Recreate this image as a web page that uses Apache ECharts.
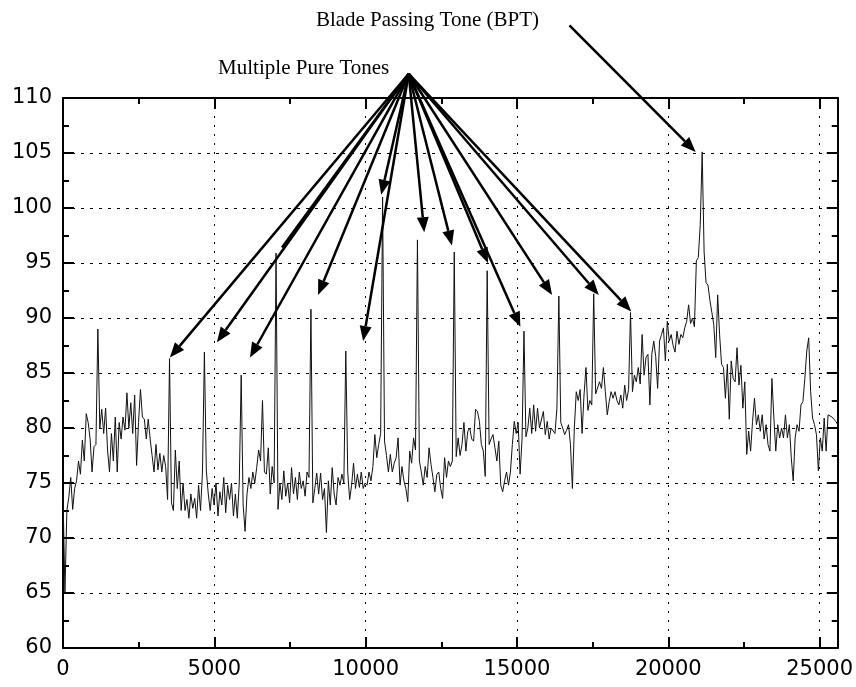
<!DOCTYPE html>
<html><head><meta charset="utf-8">
<script src="https://cdn.jsdelivr.net/npm/echarts@6/dist/echarts.min.js"></script>
<style>html,body{margin:0;padding:0;background:#fff}#c{width:856px;height:687px}</style>
</head><body><div id="c"></div>
<script>
// ---- data ----
const freqStep = 64; // Hz between spectrum samples
const levels = [
74.0,65.0,72.5,73.7,75.5,72.6,74.5,75.2,77.0,75.8,
78.9,77.0,81.3,80.5,79.0,76.0,78.3,78.5,89.0,80.0,
81.7,79.5,81.8,78.0,76.0,79.5,77.0,81.0,76.0,80.5,
79.0,81.0,79.8,83.2,80.0,82.3,79.5,83.0,76.6,80.5,
83.5,81.0,80.8,79.0,80.8,79.0,77.5,76.0,78.5,76.2,
77.7,76.0,77.5,76.5,73.5,86.3,73.2,72.5,78.0,74.5,
77.0,72.5,75.0,72.5,73.5,71.8,74.0,72.7,73.6,71.8,
74.8,72.5,76.0,86.9,76.1,74.0,72.5,74.5,73.0,75.0,
72.0,74.2,73.0,75.5,72.3,74.8,73.5,75.0,72.0,74.0,
71.8,75.0,84.8,73.0,70.6,74.0,75.5,74.5,76.0,75.0,
76.4,78.0,77.0,82.5,76.0,75.8,78.2,74.0,76.5,75.0,
95.9,72.6,75.0,73.5,76.1,73.8,75.0,73.2,76.4,74.0,
75.5,73.5,76.0,74.5,75.2,73.8,76.0,75.5,90.8,73.2,
74.5,75.9,74.0,75.9,73.5,74.5,70.5,75.2,73.0,76.4,
74.0,73.0,75.5,74.8,75.8,75.0,87.0,76.0,73.5,74.8,
76.8,74.5,75.8,74.6,76.0,74.5,75.0,74.8,76.0,75.2,
76.5,79.4,77.3,78.5,79.5,101.0,78.8,77.5,76.0,77.6,
76.0,76.8,77.3,79.1,74.8,76.5,75.2,74.5,73.3,77.9,
76.8,79.1,78.0,97.1,77.0,76.0,74.8,76.5,75.5,78.2,
76.7,75.5,74.2,75.8,76.0,74.5,73.6,77.3,75.5,77.0,
76.5,77.0,96.0,77.4,79.1,77.5,78.5,80.5,77.9,79.7,
80.0,79.0,78.8,81.7,81.5,80.6,78.5,77.9,75.6,94.3,
78.5,79.0,79.4,78.2,77.0,78.8,74.8,74.2,75.2,76.0,
74.8,76.0,78.5,80.6,79.5,80.5,75.8,79.0,88.8,79.2,
80.0,81.8,79.5,82.1,79.7,81.8,80.0,80.0,81.5,79.4,
80.6,79.0,80.0,80.0,79.5,81.8,92.0,80.5,80.0,79.4,
79.8,80.3,78.5,74.5,80.0,83.3,82.5,83.5,79.5,83.0,
85.5,81.6,82.5,82.1,92.2,83.1,83.0,84.2,83.6,85.5,
83.3,81.2,82.4,83.3,82.7,83.3,82.5,82.1,83.0,81.8,
83.9,82.5,83.5,90.5,83.3,84.8,84.2,85.5,84.0,88.5,
84.8,86.4,86.7,82.1,86.7,87.9,86.5,83.6,87.9,88.5,
89.1,86.1,89.7,87.9,88.5,87.5,86.9,88.8,87.6,88.5,
88.2,89.1,89.7,91.2,89.5,90.0,89.2,95.2,95.5,98.5,
105.1,96.0,93.2,93.0,91.6,90.5,89.4,86.4,92.1,88.5,
85.8,85.5,82.7,85.8,80.8,86.1,84.5,84.2,87.3,83.9,
85.7,81.8,84.2,77.6,79.7,77.9,80.6,82.7,80.3,81.2,
79.7,81.2,79.0,80.3,78.5,77.9,84.5,81.0,77.9,80.3,
79.1,80.0,79.1,81.2,79.1,80.3,77.3,75.2,79.1,80.3,
79.7,82.1,82.4,84.5,87.0,88.2,83.3,80.9,80.3,79.4,
76.1,79.1,77.9,80.9,77.9,81.2,81.2,81.0,80.9,80.6,
80.3
];
const xMin = 0, xMax = 25600, xMajor = 5000, xMinor = 2500;
const yMin = 60, yMax = 110, yMajor = 5, yMinor = 2.5;

// annotations (data coordinates)
const mptLabel = 'Multiple Pure Tones';
const bptLabel = 'Blade Passing Tone (BPT)';
const mptOrigin = [11423, 112.2];
const mptTargets = [
  [3531, 86.4], [5086, 87.8], [6178, 86.4], [8428, 92.1], [9917, 87.9],
  [10513, 101.2], [11936, 97.8], [12852, 96.6], [14043, 95.0], [15112, 89.2],
  [16161, 92.1], [17703, 92.1], [18775, 90.6]
];
const mptPlainLines = [[7237, 96.4]];
const bptStart = [16734, 116.6];
const bptEnd = [20903, 105.1];

// ---- chart ----
const series = levels.map((v, i) => [i * freqStep, v]);
const chart = echarts.init(document.getElementById('c'), null, {renderer: 'canvas'});
const black = '#000';
const labelFont = {fontFamily: 'DejaVu Sans', fontSize: 21, color: black, formatter: v => String(v)};

function xAx(pos, interval, len, withLabel, split) {
  return {
    type: 'value', min: xMin, max: xMax, interval: interval, position: pos,
    axisLine: {show: len > 8, onZero: false, lineStyle: {color: black, width: 2}},
    axisTick: {show: true, inside: true, length: len, lineStyle: {color: black, width: 2}},
    axisLabel: Object.assign({show: withLabel, margin: 11, showMaxLabel: false}, labelFont),
    splitLine: {show: split, lineStyle: {color: black, width: 1, type: [2, 7]}}
  };
}
function yAx(pos, interval, len, withLabel, split) {
  return {
    type: 'value', min: yMin, max: yMax, interval: interval, position: pos,
    axisLine: {show: len > 8, onZero: false, lineStyle: {color: black, width: 2}},
    axisTick: {show: true, inside: true, length: len, lineStyle: {color: black, width: 2}},
    axisLabel: Object.assign({show: withLabel, margin: 11}, labelFont),
    splitLine: {show: split, lineStyle: {color: black, width: 1, type: [3, 6]}}
  };
}

chart.setOption({
  animation: false,
  backgroundColor: '#fff',
  grid: {left: 63, top: 98, width: 775, height: 550, containLabel: false},
  xAxis: [
    xAx('bottom', xMajor, 11, true, true),
    xAx('bottom', xMinor, 6, false, false),
    xAx('top', xMajor, 11, false, false),
    xAx('top', xMinor, 6, false, false)
  ],
  yAxis: [
    yAx('left', yMajor, 11, true, true),
    yAx('left', yMinor, 6, false, false),
    yAx('right', yMajor, 11, false, false),
    yAx('right', yMinor, 6, false, false)
  ],
  series: [{
    type: 'line', data: series, xAxisIndex: 0, yAxisIndex: 0,
    showSymbol: false, symbol: 'none', z: 5,
    lineStyle: {color: '#111', width: 1}
  }]
});

function px(p) { return chart.convertToPixel({xAxisIndex: 0, yAxisIndex: 0}, p); }
const els = [];
function arrow(a, b, head) {
  const p0 = px(a), p1 = px(b);
  const dx = p1[0] - p0[0], dy = p1[1] - p0[1], len = Math.hypot(dx, dy);
  const ux = dx / len, uy = dy / len;
  const L = head ? 15 : 0, W = 6;
  const bx = p1[0] - ux * L, by = p1[1] - uy * L;
  els.push({type: 'line', z: 20, silent: true,
    shape: {x1: p0[0], y1: p0[1], x2: bx, y2: by},
    style: {stroke: black, lineWidth: 2.5}});
  if (head) els.push({type: 'polygon', z: 20, silent: true,
    shape: {points: [[p1[0], p1[1]], [bx - uy * W, by + ux * W], [bx + uy * W, by - ux * W]]},
    style: {fill: black}});
}
mptTargets.forEach(t => arrow(mptOrigin, t, true));
mptPlainLines.forEach(t => arrow(mptOrigin, t, false));
arrow(bptStart, bptEnd, true);

const o = px(mptOrigin), s = px(bptStart);
els.push({type: 'text', z: 20, x: o[0] - 105, y: o[1] + 5,
  style: {text: mptLabel, font: '21px "Liberation Serif"', fill: black, align: 'center', verticalAlign: 'bottom'}});
els.push({type: 'text', z: 20, x: s[0] - 142, y: s[1] + 6,
  style: {text: bptLabel, font: '21px "Liberation Serif"', fill: black, align: 'center', verticalAlign: 'bottom'}});
chart.setOption({graphic: els});
</script>
</body></html>
